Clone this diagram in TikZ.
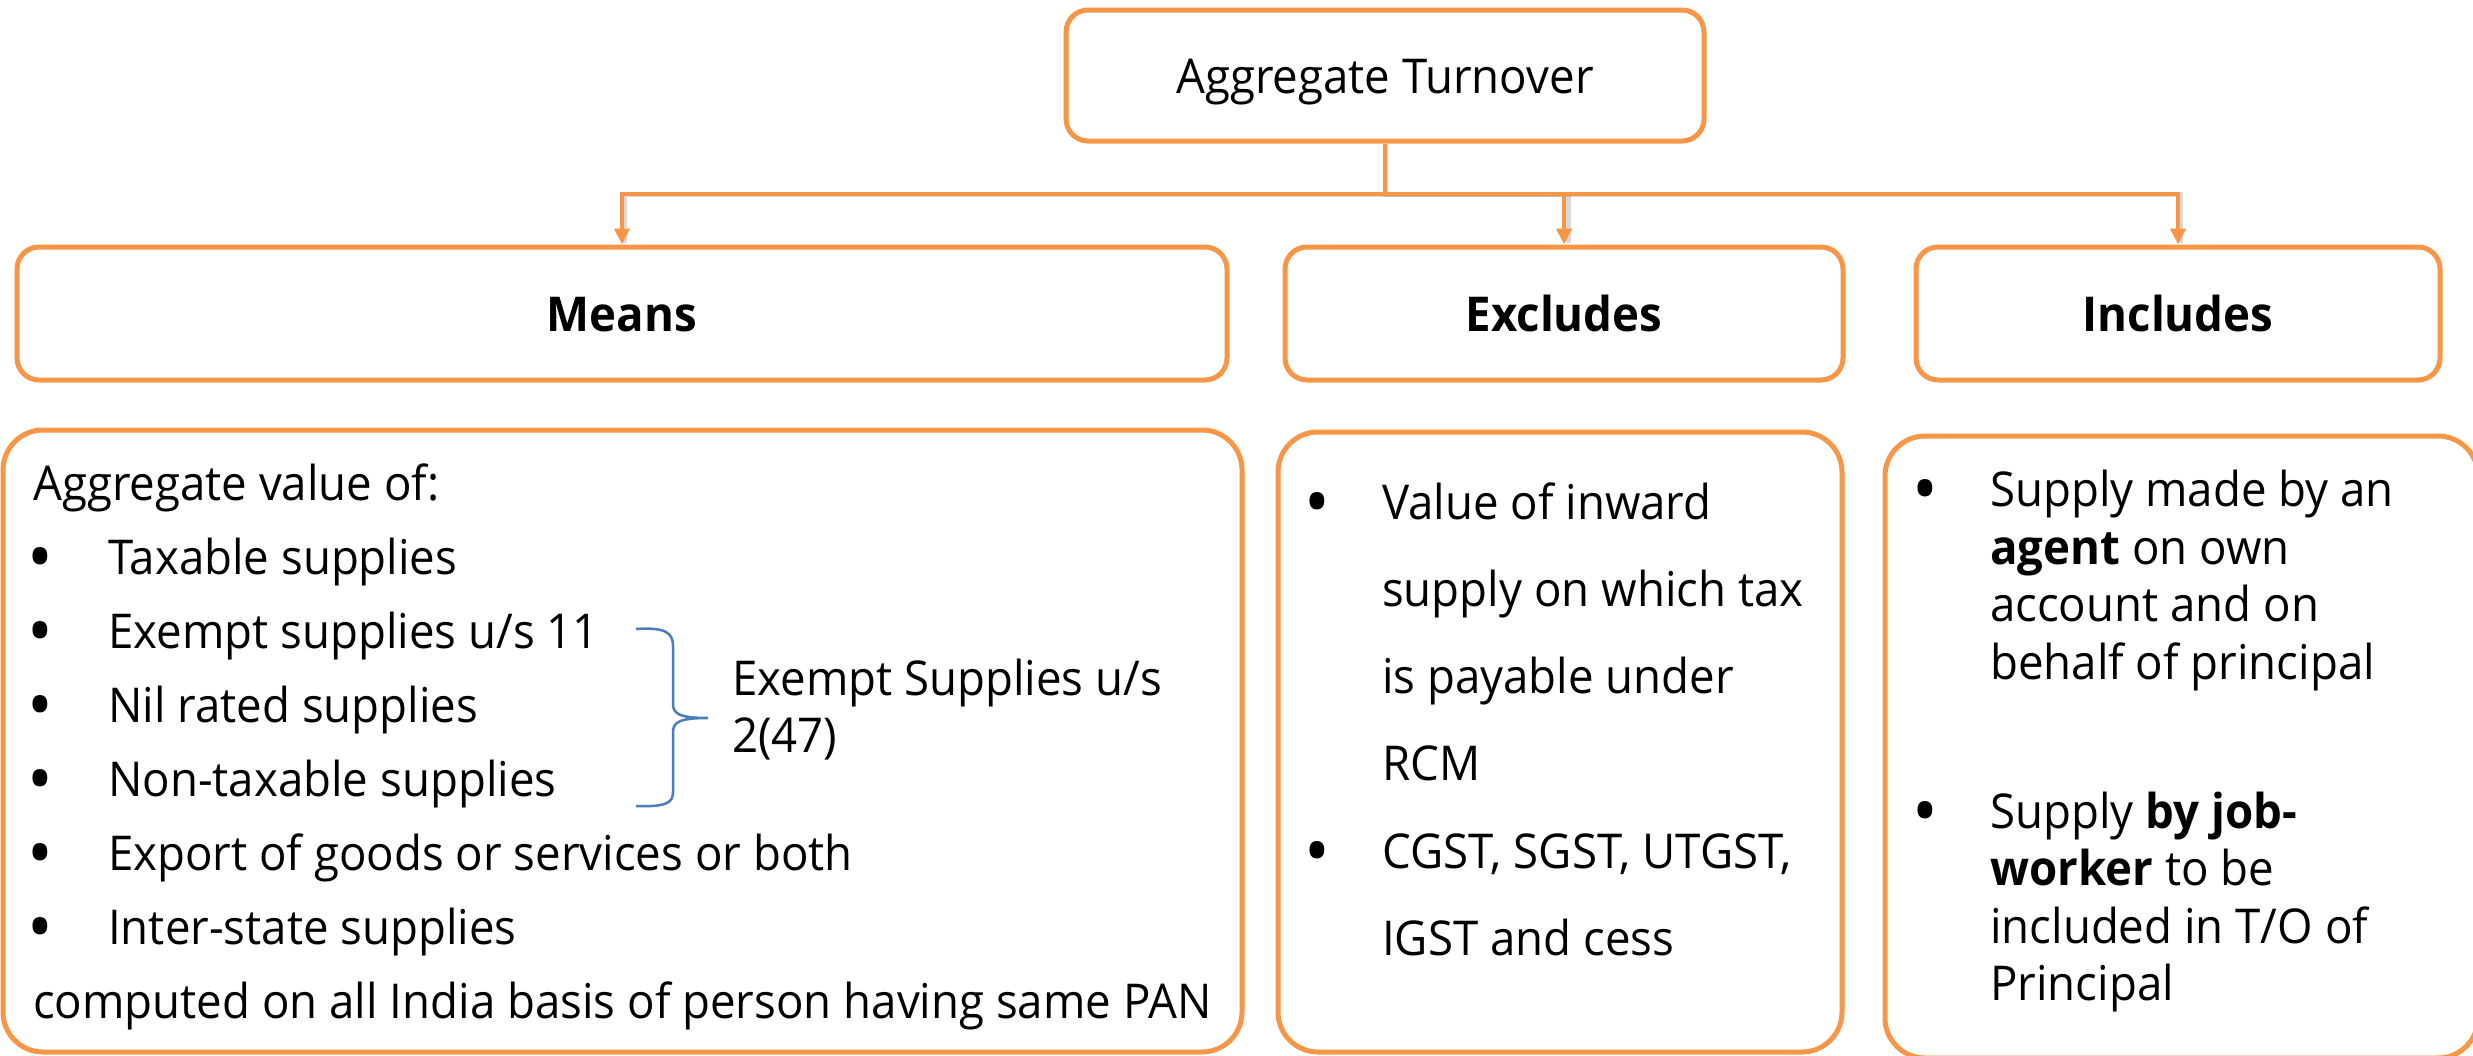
\documentclass[tikz,border=0pt]{standalone}
\usepackage{fontspec}
\setmainfont{Open Sans}[FakeStretch=0.95]
\usetikzlibrary{arrows.meta}
\definecolor{acc}{HTML}{F79646}
\definecolor{brc}{HTML}{4A7EBB}
\begin{document}
\begin{tikzpicture}[x=1pt,y=-1pt,
  hbox/.style={draw=acc, line width=5pt, rounded corners=22pt, fill=white,
    text height=36pt, text depth=0pt, inner sep=0pt, font=\fontsize{48}{58}\selectfont},
  body/.style={draw=acc, line width=5pt, rounded corners=40pt, fill=white, inner sep=0pt},
  conn/.style={draw=acc, line width=4.5pt},
  shad/.style={draw=black, opacity=0.15, line width=5pt},
  arr/.style={conn, -{Triangle[width=15pt,length=16pt]}},
  txt/.style={anchor=base west, inner sep=0pt, font=\fontsize{48}{58}\selectfont},
  bul/.style={anchor=base, inner sep=0pt, yshift=-8pt, font=\fontsize{48}{58}\selectfont},
  hd/.style={font=\fontsize{48}{58}\selectfont\bfseries}
]
\newcommand{\bigbul}{\scalebox{1.5}{•}}
\useasboundingbox (0,0) rectangle (2473,1055);
\clip (0,0) rectangle (2473,1055);
\fill[white] (0,0) rectangle (2473,1055);

% header boxes
\node[hbox, minimum width=638pt, minimum height=131pt] (top) at (1385,75.5) {Aggregate Turnover};
\node[hbox, hd, minimum width=1210pt, minimum height=133pt] (mh) at (622,313.5) {Means};
\node[hbox, hd, minimum width=558pt, minimum height=133pt] (eh) at (1564,313.5) {Excludes};
\node[hbox, hd, minimum width=524pt, minimum height=133pt] (ih) at (2178,313.5) {Includes};

% body boxes
\node[body, minimum width=1239pt, minimum height=622pt] (mb) at (622.5,741) {};
\node[body, minimum width=564pt, minimum height=620pt] (eb) at (1560,742) {};
\node[body, minimum width=593pt, minimum height=622pt] (ib) at (2181.5,747) {};

% connectors
\coordinate (hub) at (1385,194);
\begin{scope}[shift={(2,3)}]
\draw[shad] (top.south) -- (hub) -| (1566,240);
\draw[shad] (hub) -| (2178,240);
\draw[shad] (hub) -| (622,240);
\end{scope}
\draw[conn] (top.south) -- (hub);
\draw[arr] (hub) -| (mh.north);
\draw[arr] (hub) -| (eh.north);
\draw[arr] (hub) -| (ih.north);

% Means body text
\node[txt] (m0) at (33,500) {Aggregate value of:};
\node[bul] (mb1) at (40,574) {\bigbul};
\node[txt] (mt1) at (108,574) {Taxable supplies};
\node[bul] (mb2) at (40,648) {\bigbul};
\node[txt] (mt2) at (108,648) {Exempt supplies u/s 11};
\node[bul] (mb3) at (40,722) {\bigbul};
\node[txt] (mt3) at (108,722) {Nil rated supplies};
\node[bul] (mb4) at (40,796) {\bigbul};
\node[txt] (mt4) at (108,796) {Non-taxable supplies};
\node[bul] (mb5) at (40,870) {\bigbul};
\node[txt] (mt5) at (108,870) {Export of goods or services or both};
\node[bul] (mb6) at (40,944) {\bigbul};
\node[txt] (mt6) at (108,944) {Inter-state supplies};
\node[txt] (m7) at (33,1018) {computed on all India basis of person having same PAN};

% brace
\draw[brc, line width=2.5pt] (636,629) .. controls (666,627) and (673,633) .. (673,646)
  -- (673,704) .. controls (673,714) and (680,718) .. (708,718)
  .. controls (680,718) and (673,722) .. (673,732)
  -- (673,792) .. controls (673,803) and (666,807) .. (636,806);
\node[txt] (ex1) at (732,695) {Exempt Supplies u/s};
\node[txt] (ex2) at (732,752) {2(47)};

% Excludes body text
\node[bul] (eb1) at (1317,519) {\bigbul};
\node[txt] (et1) at (1382,519) {Value of inward};
\node[txt] (et2) at (1382,606) {supply on which tax};
\node[txt] (et3) at (1382,693) {is payable under};
\node[txt] (et4) at (1382,780) {RCM};
\node[bul] (eb2) at (1317,868) {\bigbul};
\node[txt] (et5) at (1382,868) {CGST, SGST, UTGST,};
\node[txt] (et6) at (1382,955) {IGST and cess};

% Includes body text
\node[bul] (ib1) at (1925,506) {\bigbul};
\node[txt] (it1) at (1990,506) {Supply made by an};
\node[txt] (it2) at (1990,564) {\textbf{agent} on own};
\node[txt] (it3) at (1990,621) {account and on};
\node[txt] (it4) at (1990,679) {behalf of principal};
\node[bul] (ib2) at (1925,828) {\bigbul};
\node[txt] (it5) at (1990,828) {Supply \textbf{by job-}};
\node[txt] (it6) at (1990,885) {\textbf{worker} to be};
\node[txt] (it7) at (1990,943) {included in T/O of};
\node[txt] (it8) at (1990,1000) {Principal};
\end{tikzpicture}
\end{document}
